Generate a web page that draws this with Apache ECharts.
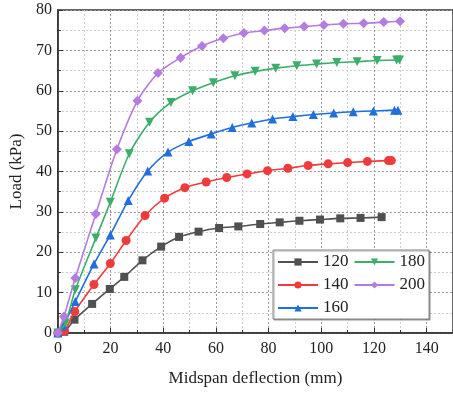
<!DOCTYPE html>
<html><head><meta charset="utf-8">
<script src="https://cdn.jsdelivr.net/npm/echarts@6/dist/echarts.min.js"></script>
<style>html,body{margin:0;padding:0;background:#fff}#c{width:453px;height:394px}</style>
</head><body><div id="c"></div>
<script>
var seriesNames = ['120', '140', '160', '180', '200'];
var x120 = [0, 2.4, 6.3, 13.0, 19.7, 25.2, 32.1, 39.2, 46.0, 53.4, 61.2, 68.5, 76.8, 84.2, 91.7, 99.5, 107.2, 114.9, 122.9];
var y120 = [0, 0.3, 3.3, 7.2, 10.9, 13.9, 18.0, 21.4, 23.8, 25.1, 26.0, 26.4, 27.0, 27.4, 27.8, 28.1, 28.4, 28.5, 28.7];
var x140 = [0, 2.5, 6.4, 13.7, 19.9, 25.9, 33.1, 40.5, 48.2, 56.3, 64.1, 71.8, 79.6, 87.3, 95.0, 102.6, 110.0, 117.5, 125.5, 126.6];
var y140 = [0, 0.5, 5.3, 12.0, 17.2, 22.9, 29.1, 33.4, 36.0, 37.4, 38.5, 39.4, 40.2, 40.8, 41.5, 41.9, 42.2, 42.5, 42.7, 42.7];
var x160 = [0, 2.0, 6.6, 13.7, 19.9, 26.7, 34.1, 41.8, 49.7, 58.2, 66.2, 73.6, 81.5, 89.2, 97.0, 104.7, 112.1, 119.8, 127.8, 129.1];
var y160 = [0, 1.8, 7.8, 17.1, 24.3, 32.8, 40.1, 44.8, 47.4, 49.3, 50.9, 52.0, 53.0, 53.6, 54.1, 54.5, 54.8, 55.0, 55.2, 55.2];
var x180 = [0, 2.9, 6.6, 14.4, 19.9, 27.1, 34.8, 42.9, 51.1, 59.0, 67.2, 74.9, 82.7, 90.7, 98.2, 105.9, 113.6, 121.2, 128.6, 129.7];
var y180 = [0, 2.5, 10.7, 23.5, 32.4, 44.4, 52.2, 57.1, 60.0, 62.0, 63.7, 64.8, 65.6, 66.2, 66.6, 67.0, 67.2, 67.5, 67.6, 67.6];
var x200 = [0, 2.3, 6.6, 14.4, 22.4, 30.2, 38.0, 46.6, 54.7, 62.8, 70.6, 78.4, 86.1, 93.5, 101.0, 108.4, 116.1, 123.7, 129.9];
var y200 = [0, 4.1, 13.6, 29.5, 45.5, 57.5, 64.4, 68.2, 71.1, 73.0, 74.3, 74.9, 75.5, 75.9, 76.3, 76.6, 76.7, 77.0, 77.2];
var xTicks = [0, 20, 40, 60, 80, 100, 120, 140];
var yTicks = [0, 10, 20, 30, 40, 50, 60, 70, 80];

var colors = ['#505050', '#f03b3b', '#1f6fde', '#3aae6a', '#b47be0'];
var symbols = ['rect', 'circle', 'triangle', 'path://M0,0 L10,0 L5,10 Z', 'diamond'];
var sizes = [8, 9, 9, 9, 10];
var xs = [x120, x140, x160, x180, x200];
var ys = [y120, y140, y160, y180, y200];
var font = '"Liberation Serif", "Times New Roman", serif';

function pairs(a, b) { return a.map(function (v, i) { return [v, b[i]]; }); }

var series = seriesNames.map(function (n, i) {
  return {
    name: n, type: 'line', data: pairs(xs[i], ys[i]),
    smooth: 0.25, symbol: symbols[i], symbolSize: sizes[i], showAllSymbol: true,
    lineStyle: { color: colors[i], width: 1.6 },
    itemStyle: { color: colors[i] },
    z: 2 + i
  };
});

var chart = echarts.init(document.getElementById('c'), null, { renderer: 'canvas' });
chart.setOption({
  animation: false,
  backgroundColor: '#fff',
  grid: { left: 56, top: 10, right: -5, bottom: 61, show: true, borderColor: '#333', borderWidth: 1.5 },
  legend: {
    data: ['120', '180', '140', '200', '160'],
    left: 273, top: 250, width: 156,
    orient: 'horizontal',
    padding: [3, 4, 2, 4],
    itemGap: 5, itemWidth: 40, itemHeight: 9,
    borderColor: '#888', borderWidth: 1,
    shadowColor: 'rgba(0,0,0,0.35)', shadowOffsetX: 1, shadowOffsetY: 1, shadowBlur: 1,
    backgroundColor: '#fff',
    textStyle: { fontFamily: font, fontSize: 17, color: '#222', padding: [0, 0, 0, 0], lineHeight: 18 }
  },
  xAxis: {
    type: 'value', min: 0, max: 150, interval: 20,
    name: 'Midspan deflection (mm)', nameLocation: 'middle', nameGap: 37,
    nameTextStyle: { fontFamily: font, fontSize: 17, color: '#222' },
    axisLine: { onZero: false, lineStyle: { color: '#333', width: 1.5 } },
    axisTick: { inside: true, length: 5, lineStyle: { color: '#333' } },
    minorTick: { show: true, splitNumber: 2, length: 3, lineStyle: { color: '#333' } },
    axisLabel: { fontFamily: font, fontSize: 16, color: '#222', margin: 8, showMaxLabel: false,
      formatter: function (v) { return xTicks.indexOf(v) >= 0 ? String(v) : ''; } },
    splitLine: { show: true, lineStyle: { color: '#999', type: [2, 2], width: 1 } },
    minorSplitLine: { show: true, lineStyle: { color: '#ccc', type: [2, 2], width: 1 } }
  },
  yAxis: {
    type: 'value', min: 0, max: 80, interval: 10,
    name: 'Load (kPa)', nameLocation: 'middle', nameGap: 30,
    nameTextStyle: { fontFamily: font, fontSize: 17, color: '#222' },
    axisLine: { show: true, onZero: false, lineStyle: { color: '#333', width: 1.5 } },
    axisTick: { show: true, inside: true, length: 5, lineStyle: { color: '#333' } },
    minorTick: { show: true, splitNumber: 2, length: 3, lineStyle: { color: '#333' } },
    axisLabel: { fontFamily: font, fontSize: 16, color: '#222', margin: 6,
      formatter: function (v) { return yTicks.indexOf(v) >= 0 ? String(v) : ''; } },
    splitLine: { show: true, lineStyle: { color: '#999', type: [2, 2], width: 1 } },
    minorSplitLine: { show: true, lineStyle: { color: '#ccc', type: [2, 2], width: 1 } }
  },
  series: series
});
</script></body></html>
